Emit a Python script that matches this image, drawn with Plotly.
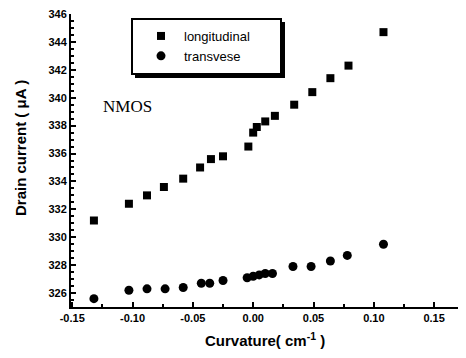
import plotly.graph_objects as go

curv_long = [-0.132, -0.103, -0.088, -0.074, -0.058, -0.044, -0.035, -0.025, -0.004, 0.000, 0.003, 0.010, 0.018, 0.034, 0.049, 0.064, 0.079, 0.108]
long_vals = [331.2, 332.4, 333.0, 333.6, 334.2, 335.0, 335.6, 335.8, 336.5, 337.5, 337.9, 338.3, 338.7, 339.5, 340.4, 341.4, 342.3, 344.7]
curv_trans = [-0.132, -0.103, -0.088, -0.073, -0.058, -0.043, -0.036, -0.025, -0.005, 0.000, 0.005, 0.010, 0.016, 0.033, 0.048, 0.064, 0.078, 0.108]
trans_vals = [325.6, 326.2, 326.3, 326.3, 326.4, 326.7, 326.7, 326.9, 327.1, 327.2, 327.3, 327.4, 327.4, 327.9, 327.9, 328.3, 328.7, 329.5]
x_ticks = [-0.15, -0.10, -0.05, 0.00, 0.05, 0.10, 0.15]
x_tick_labels = ["-0.15", "-0.10", "-0.05", "0.00", "0.05", "0.10", "0.15"]
y_ticks = [326, 328, 330, 332, 334, 336, 338, 340, 342, 344, 346]

# page body has an 8px margin; compensate so the figure lands like the reference
OFF = 8
W, H = 466 - OFF, 358 - OFF
L, R, T, B = 71 - OFF, 0, 14 - OFF, 51
PW, PH = W - L - R, H - T - B

def px(x):
    return (x - OFF - L) / PW

def py(y):
    return (H - B - (y - OFF)) / PH

fig = go.Figure()
fig.add_trace(go.Scatter(x=curv_long, y=long_vals, mode="markers", name="longitudinal",
                         marker=dict(symbol="square", size=8, color="black")))
fig.add_trace(go.Scatter(x=curv_trans, y=trans_vals, mode="markers", name="transvese",
                         marker=dict(symbol="circle", size=9, color="black")))

# legend box with shadow
fig.add_shape(type="rect", xref="paper", yref="paper", x0=px(135), x1=px(285),
              y0=py(78), y1=py(22), fillcolor="black", line=dict(width=0), layer="below")
fig.add_shape(type="rect", xref="paper", yref="paper", x0=px(132), x1=px(281),
              y0=py(74), y1=py(19), fillcolor="white", line=dict(color="black", width=2), layer="below")

fig.add_annotation(text="NMOS", x=px(127), y=py(106), xref="paper", yref="paper", showarrow=False,
                   xanchor="center", yanchor="middle",
                   font=dict(family="Liberation Serif", size=17, color="black"))
fig.add_annotation(text="<b>Drain current ( μA )</b>", x=px(20), y=py(148), xref="paper", yref="paper",
                   showarrow=False, textangle=-90, xanchor="center", yanchor="middle",
                   font=dict(family="Liberation Sans", size=15, color="black"))
fig.add_annotation(text="<b>Curvature( cm<sup>-1</sup> )</b>", x=px(265), y=py(340), xref="paper", yref="paper",
                   showarrow=False, xanchor="center", yanchor="middle",
                   font=dict(family="Liberation Sans", size=15, color="black"))

fig.update_layout(
    width=W, height=H,
    margin=dict(l=L, r=R, t=T, b=B, autoexpand=False),
    paper_bgcolor="white", plot_bgcolor="white",
    showlegend=True,
    legend=dict(x=px(138), y=py(21), xanchor="left", yanchor="top",
                bgcolor="rgba(0,0,0,0)", borderwidth=0,
                font=dict(family="Liberation Sans", size=13, color="black"),
                itemwidth=36, tracegroupgap=0),
    font=dict(family="Liberation Sans", color="black"),
)
fig.update_xaxes(range=[-0.151, 0.1764], tickvals=x_ticks, ticktext=x_tick_labels,
                 ticks="inside", ticklen=5, tickwidth=1.5, tickcolor="black",
                 minor=dict(ticks="inside", ticklen=3, tickcolor="black", dtick=0.025, tick0=0),
                 showline=True, linecolor="black", linewidth=2, mirror=False,
                 showgrid=False, zeroline=False, automargin=False, ticklabeloverflow="allow",
                 tickfont=dict(family="Liberation Sans", size=11, color="black", weight="bold"))
fig.update_yaxes(range=[325, 346], tickvals=y_ticks,
                 ticks="inside", ticklen=5, tickwidth=1.5, tickcolor="black",
                 minor=dict(ticks="inside", ticklen=3, tickcolor="black", dtick=0.5, tick0=0),
                 showline=True, linecolor="black", linewidth=2, mirror=False,
                 showgrid=False, zeroline=False, automargin=False, ticklabeloverflow="allow",
                 tickfont=dict(family="Liberation Sans", size=11, color="black", weight="bold"))

fig.write_html("out.html")
